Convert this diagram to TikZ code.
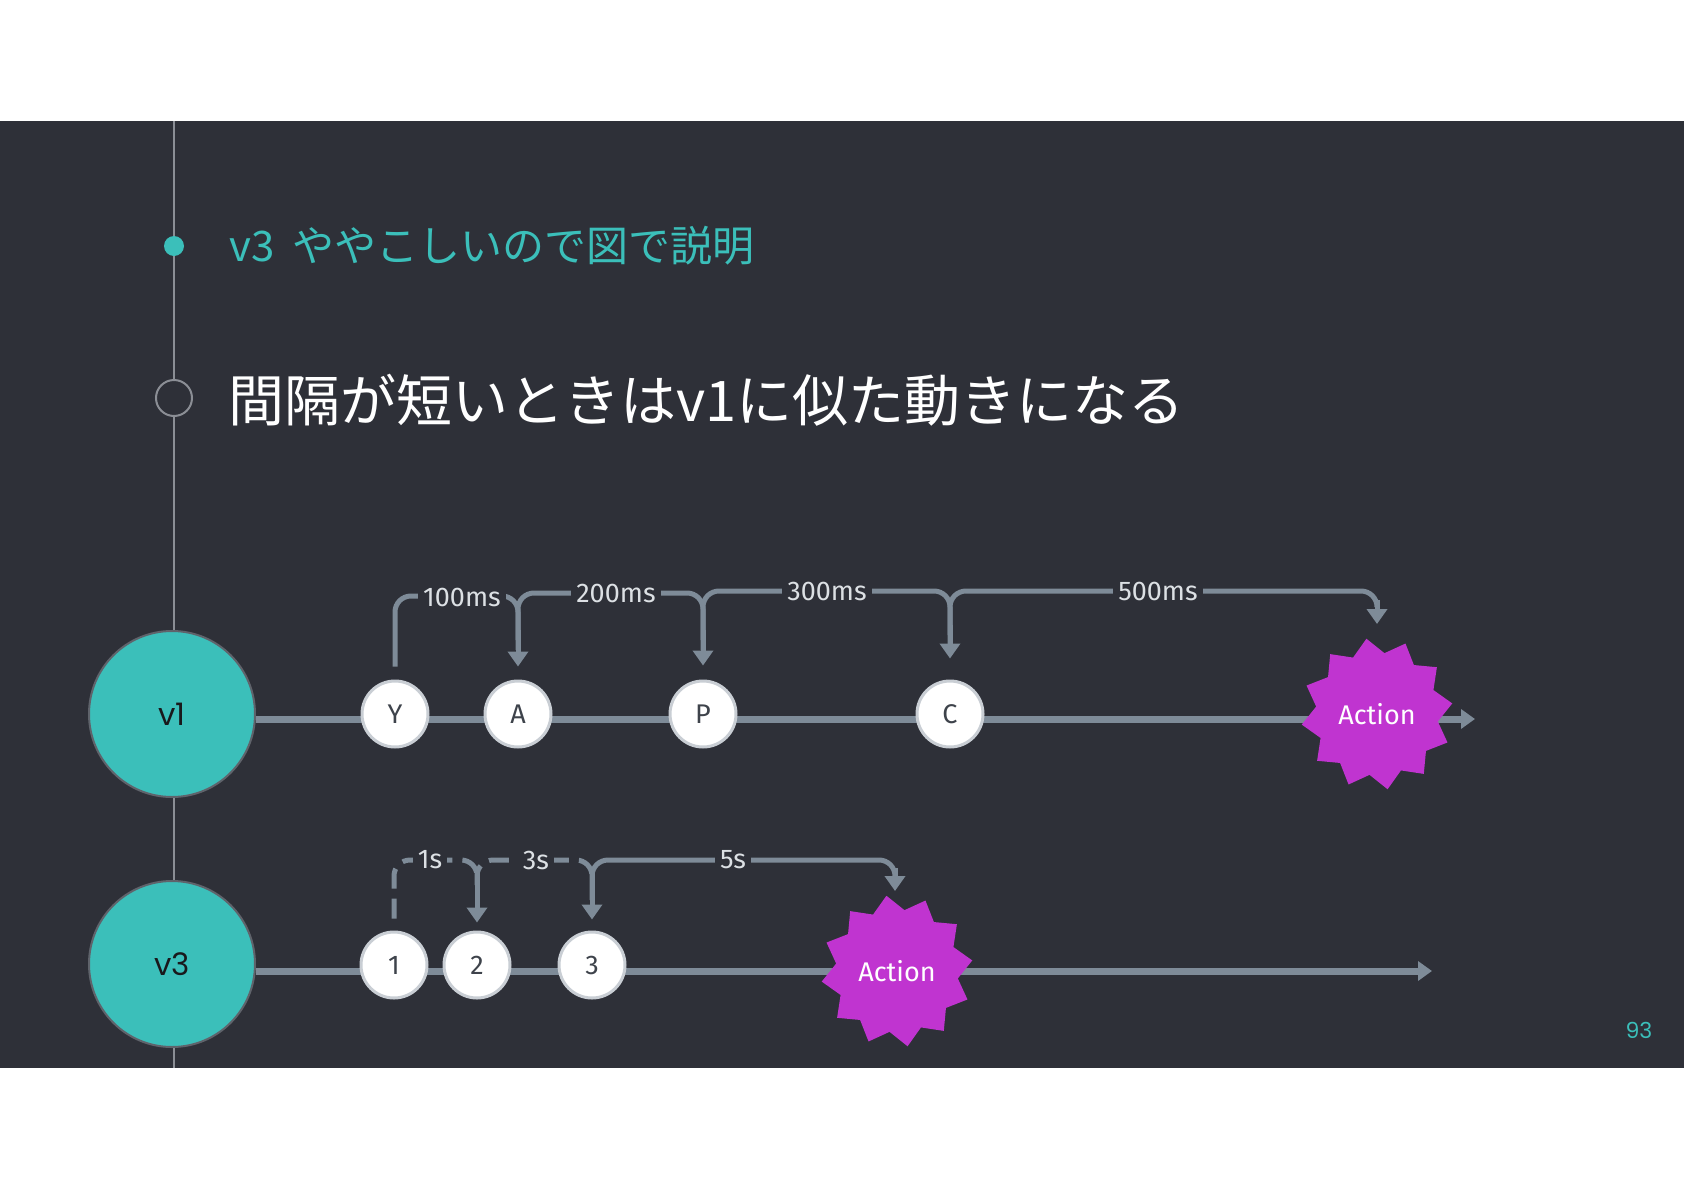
\documentclass[tikz,border=0pt]{standalone}
\usepackage{fontspec}
\newfontfamily\jpfont{Noto Sans CJK JP}
\newfontfamily\dinfont{Fira Sans}
\newfontfamily\geofont{Poppins}
\usetikzlibrary{shapes.geometric,arrows.meta}
\definecolor{bgdark}{HTML}{2E3038}
\definecolor{tealc}{HTML}{3BBFBA}
\definecolor{lineg}{HTML}{7E8B98}
\definecolor{vlineg}{HTML}{8B8E95}
\definecolor{purp}{HTML}{C034D0}
\definecolor{inkg}{HTML}{3E434B}
\definecolor{ringg}{HTML}{C9CED4}
\pgfdeclarelayer{back}
\pgfsetlayers{back,main}
\tikzset{
  vnode/.style={circle,fill=tealc,draw={rgb,255:red,95;green,99;blue,107},line width=2pt,minimum size=166pt,inner sep=0pt,font=\geofont\fontsize{31}{31}\selectfont,text={rgb,255:red,25;green,25;blue,28}},
  evt/.style={circle,fill=white,draw=ringg,line width=3pt,minimum size=66pt,inner sep=0pt,font=\dinfont\fontsize{27}{27}\selectfont,text=inkg},
  act/.style={star,star points=12,star point ratio=1.24,fill=purp,minimum size=152pt,inner sep=0pt,shape border rotate=8,font=\dinfont\fontsize{27}{27}\selectfont,text=white},
  tline/.style={draw=lineg,line width=7pt,-{Triangle[width=19pt,length=14pt]}},
  brk/.style={draw=lineg,line width=5pt,rounded corners=16pt},
  brkarrow/.style={draw=lineg,line width=5pt,-{Triangle[width=20pt,length=15pt]}},
  dsh/.style={dash pattern=on 20pt off 10pt},
  lbl/.style={fill=bgdark,inner sep=5pt,text={rgb,255:red,220;green,224;blue,228},font=\dinfont\fontsize{27}{27}\selectfont}
}
\begin{document}
\begin{tikzpicture}[x=1pt,y=-1pt]
\useasboundingbox (0,0) rectangle (1684,1191);
\begin{pgfonlayer}{back}
\fill[white] (0,0) rectangle (1684,1191);
\fill[bgdark] (0,121) rectangle (1684,1068);
\draw[vlineg,line width=2pt] (174,121) -- (174,1068);
\end{pgfonlayer}

% title and heading
\fill[tealc] (174,246) circle (10pt);
\node[anchor=west,inner sep=0pt,text=tealc,font=\jpfont\fontsize{42}{42}\selectfont] (title) at (229,246) {v3\hspace{18pt}ややこしいので図で説明};
\draw[vlineg,line width=2pt,fill=bgdark] (174,398) circle (18pt);
\node[anchor=west,inner sep=0pt,text=white,font=\jpfont\fontsize{56}{56}\selectfont] (head) at (228,400) {間隔が短いときはv1に似た動きになる};

% v1 row
\node[vnode] (v1) at (172,714) {v1};
\node[evt] (Y) at (395,714) {Y};
\node[evt] (A) at (518,714) {A};
\node[evt] (P) at (703,714) {P};
\node[evt] (C) at (950,714) {C};
\node[act] (act1) at (1377,714) {Action};
\coordinate (end1) at (1475,719);
\begin{pgfonlayer}{back}
\draw[tline] ([yshift=-5pt]v1.east) -- (end1);
\end{pgfonlayer}

\draw[brk] ([yshift=13pt]Y.north) -- (Y.north |- 0,596) -- (A.north |- 0,596) -- (A.north |- 0,640);
\draw[brkarrow] (A.north |- 0,630) -- ([yshift=13pt]A.north);
\draw[brk] (A.north |- 0,650) -- (A.north |- 0,593) -- (P.north |- 0,593) -- (P.north |- 0,640);
\draw[brkarrow] (P.north |- 0,630) -- ([yshift=14pt]P.north);
\draw[brk] (P.north |- 0,650) -- (P.north |- 0,591) -- (C.north |- 0,591) -- (C.north |- 0,635);
\draw[brkarrow] (C.north |- 0,625) -- ([yshift=21pt]C.north);
\draw[brk] (C.north |- 0,645) -- (C.north |- 0,591) -- (act1.north |- 0,591) -- (act1.north |- 0,605);
\draw[brkarrow] (act1.north |- 0,600) -- (act1.north |- 0,624);
\node[lbl] (l100) at (462,597) {100ms};
\node[lbl] (l200) at (616,593) {200ms};
\node[lbl] (l300) at (827,591) {300ms};
\node[lbl] (l500) at (1158,591) {500ms};

% v3 row
\node[vnode] (v3) at (172,964) {v3};
\node[evt] (n1) at (394,965) {1};
\node[evt] (n2) at (477,965) {2};
\node[evt] (n3) at (592,965) {3};
\node[act] (act3) at (897,971) {Action};
\coordinate (end3) at (1432,971);
\begin{pgfonlayer}{back}
\draw[tline] ([yshift=-7pt]v3.east) -- (end3);
\end{pgfonlayer}

\draw[brk,dsh] ([yshift=12pt]n1.north) -- (n1.north |- 0,860) -- (n2.north |- 0,860) -- (n2.north |- 0,882);
\draw[brkarrow] (n2.north |- 0,872) -- ([yshift=8pt]n2.north);
\draw[brk,dsh] (n2.north |- 0,885) -- (n2.north |- 0,860) -- (n3.north |- 0,860) -- (n3.north |- 0,882);
\draw[brkarrow] (n3.north |- 0,872) -- ([yshift=11pt]n3.north);
\draw[brk] (n3.north |- 0,900) -- (n3.north |- 0,860) -- (895,860) -- (895,872);
\draw[brkarrow] (895,868) -- (895,891);
\node[lbl] (l1) at (430,860) {1s};
\node[lbl] (l3) at (536,860) {3s};
\node[lbl] (l5) at (733,860) {5s};

% page number
\node[text=tealc,font=\geofont\fontsize{22}{22}\selectfont,inner sep=0pt] (pg) at (1639,1030) {93};
\end{tikzpicture}
\end{document}
